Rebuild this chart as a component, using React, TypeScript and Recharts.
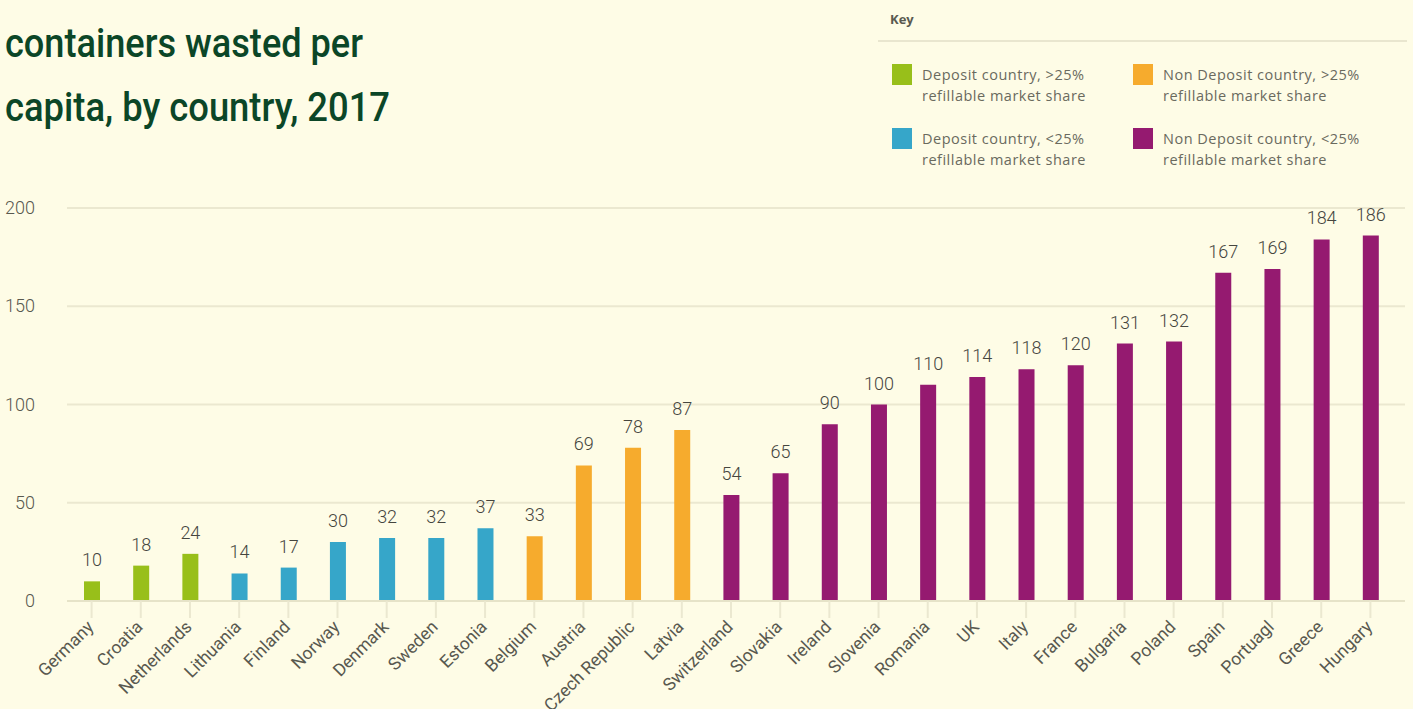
import React from 'react';
import { BarChart, Bar, XAxis, YAxis, CartesianGrid, Cell, LabelList } from 'recharts';

const countries = [
  'Germany', 'Croatia', 'Netherlands', 'Lithuania', 'Finland', 'Norway', 'Denmark',
  'Sweden', 'Estonia', 'Belgium', 'Austria', 'Czech Republic', 'Latvia', 'Switzerland',
  'Slovakia', 'Ireland', 'Slovenia', 'Romania', 'UK', 'Italy', 'France', 'Bulgaria',
  'Poland', 'Spain', 'Portuagl', 'Greece', 'Hungary',
];
const wasted = [10, 18, 24, 14, 17, 30, 32, 32, 37, 33, 69, 78, 87, 54, 65, 90, 100, 110, 114, 118, 120, 131, 132, 167, 169, 184, 186];
// 0 = deposit >25%, 1 = deposit <25%, 2 = non deposit >25%, 3 = non deposit <25%
const groups = [0, 0, 0, 1, 1, 1, 1, 1, 1, 2, 2, 2, 2, 3, 3, 3, 3, 3, 3, 3, 3, 3, 3, 3, 3, 3, 3];
const yTicks = [0, 50, 100, 150, 200];
const groupLabels = [
  ['Deposit country, >25%', 'refillable market share'],
  ['Deposit country, <25%', 'refillable market share'],
  ['Non Deposit country, >25%', 'refillable market share'],
  ['Non Deposit country, <25%', 'refillable market share'],
];

const groupColors = ['#98bf1a', '#36a6c9', '#f6ab2d', '#951a70'];
const bg = '#fefce6';
const textGrey = '#58584f';
const gridColor = '#ebe8d0';

const data = countries.map((country, i) => ({ country, value: wasted[i], group: groups[i] }));

function XTick(props: any) {
  const { x, y, payload } = props;
  return (
    <g transform={`translate(${x + 3},${y + 8})`}>
      <text
        textAnchor="end"
        transform="rotate(-45)"
        fill={textGrey}
        fontSize={17.5}
        fontFamily="Roboto, sans-serif"
        fontWeight={400}
      >
        {payload.value}
      </text>
    </g>
  );
}

function YTick(props: any) {
  const { y, payload } = props;
  return (
    <text x={35} y={y} dy={6} textAnchor="end" fill={textGrey} fontSize={18} fontFamily="Roboto, sans-serif" fontWeight={300}>
      {payload.value}
    </text>
  );
}

function LegendItem({ color, lines, x, y }: { color: string; lines: string[]; x: number; y: number }) {
  return (
    <div style={{ position: 'absolute', left: x, top: y }}>
      <div style={{ position: 'absolute', left: 0, top: 0, width: 20, height: 21, background: color }} />
      <div
        style={{
          position: 'absolute',
          left: 30,
          top: 0,
          width: 240,
          fontFamily: '"Open Sans", sans-serif',
          fontSize: 14.5,
          lineHeight: '21px',
          letterSpacing: 0.5,
          color: '#6a6a5e',
        }}
      >
        {lines.map((l) => (
          <div key={l}>{l}</div>
        ))}
      </div>
    </div>
  );
}

export default function App() {
  return (
    <div style={{ position: 'absolute', left: 0, top: 0, width: 1413, height: 709, background: bg, overflow: 'hidden' }}>
      <svg style={{ position: 'absolute', left: 0, top: 0 }} width={560} height={140}>
        <text
          x={5}
          y={57}
          fill="#0b4627"
          fontSize={40}
          fontWeight={500}
          fontFamily='"Liberation Sans Narrow", Roboto, sans-serif'
          textLength={358}
          lengthAdjust="spacingAndGlyphs"
        >
          containers wasted per
        </text>
        <text
          x={5}
          y={121}
          fill="#0b4627"
          fontSize={40}
          fontWeight={500}
          fontFamily='"Liberation Sans Narrow", Roboto, sans-serif'
          textLength={385}
          lengthAdjust="spacingAndGlyphs"
        >
          capita, by country, 2017
        </text>
      </svg>

      <div
        style={{
          position: 'absolute',
          left: 890,
          top: 10,
          fontFamily: '"Open Sans", sans-serif',
          fontWeight: 700,
          fontSize: 13,
          color: '#5a5a50',
        }}
      >
        Key
      </div>
      <div style={{ position: 'absolute', left: 878, top: 40, width: 529, height: 2, background: '#e9e6cf' }} />
      <LegendItem color={groupColors[0]} lines={groupLabels[0]} x={892} y={64} />
      <LegendItem color={groupColors[2]} lines={groupLabels[2]} x={1133} y={64} />
      <LegendItem color={groupColors[1]} lines={groupLabels[1]} x={892} y={128} />
      <LegendItem color={groupColors[3]} lines={groupLabels[3]} x={1133} y={128} />

      <div style={{ position: 'absolute', left: 0, top: 0 }}>
        <BarChart width={1413} height={709} data={data} margin={{ top: 208, right: 8, bottom: 0, left: 0 }}>
          <CartesianGrid horizontal vertical={false} stroke={gridColor} strokeWidth={2} />
          <XAxis
            dataKey="country"
            interval={0}
            height={108}
            tickSize={17}
            padding={{ left: 0, right: 10 }}
            axisLine={{ stroke: '#e6e3c8', strokeWidth: 2 }}
            tickLine={{ stroke: gridColor, strokeWidth: 2 }}
            tick={<XTick />}
          />
          <YAxis
            width={67}
            domain={[0, 200]}
            ticks={yTicks}
            axisLine={false}
            tickLine={false}
            tick={<YTick />}
          />
          <Bar dataKey="value" barSize={16} isAnimationActive={false}>
            {data.map((d, i) => (
              <Cell key={`cell-${i}`} fill={groupColors[d.group]} />
            ))}
            <LabelList
              dataKey="value"
              position="top"
              offset={15}
              fill="#45453e"
              fontSize={18}
              fontFamily="Roboto, sans-serif"
              fontWeight={300}
            />
          </Bar>
        </BarChart>
      </div>
    </div>
  );
}
